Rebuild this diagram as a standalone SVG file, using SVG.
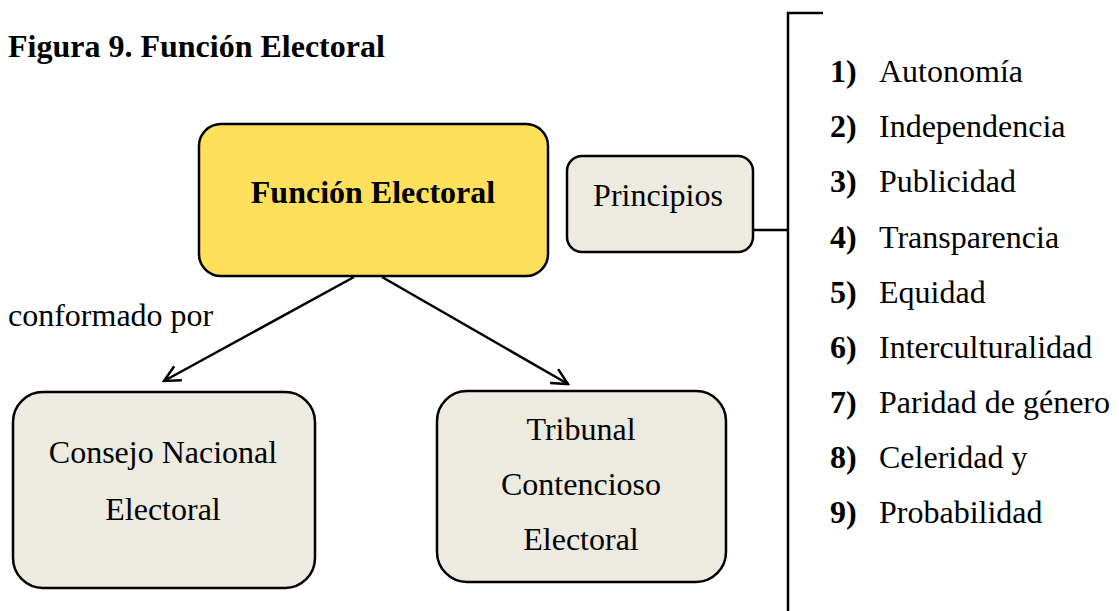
<svg xmlns="http://www.w3.org/2000/svg" width="1119" height="611" viewBox="0 0 1119 611">
<style>
text{font-family:"Liberation Serif","Times New Roman",serif;font-size:32px;fill:#000}
.b{font-weight:bold}
.box{stroke:#000;stroke-width:2.5}
.beige{fill:#EDEBE0}
.yel{fill:#FFE05C}
.ln{stroke:#000;stroke-width:2.5;fill:none}
</style>
<defs>
<marker id="arr" viewBox="0 0 20 20" refX="18" refY="10" markerWidth="20" markerHeight="20" markerUnits="userSpaceOnUse" orient="auto">
<polyline points="2,2 18,10 2,18" fill="none" stroke="#000" stroke-width="2.5"/>
</marker>
</defs>
<rect width="1119" height="611" fill="#fff"/>
<text id="title" class="b" x="8" y="57">Figura 9. Función Electoral</text>
<g id="connectors">
<line class="ln" x1="354" y1="277" x2="164" y2="381" marker-end="url(#arr)"/>
<line class="ln" x1="382" y1="277" x2="568" y2="384" marker-end="url(#arr)"/>
<line class="ln" x1="753" y1="230" x2="788" y2="230"/>
<polyline class="ln" points="823,13 788,13 788,611"/>
</g>
<text id="label-conformado" x="8" y="326">conformado por</text>
<g id="funcion">
<rect class="box yel" x="199" y="124" width="349" height="152" rx="22"/>
<text class="b" x="373" y="203" text-anchor="middle">Función Electoral</text>
</g>
<g id="principios">
<rect class="box beige" x="567" y="156" width="186" height="96" rx="15"/>
<text x="658" y="206" text-anchor="middle">Principios</text>
</g>
<g id="consejo">
<rect class="box beige" x="13" y="392" width="302" height="196" rx="30"/>
<text x="163" y="463" text-anchor="middle">Consejo Nacional</text>
<text x="163" y="520" text-anchor="middle">Electoral</text>
</g>
<g id="tribunal">
<rect class="box beige" x="437" y="391" width="289" height="191" rx="30"/>
<text x="581" y="440" text-anchor="middle">Tribunal</text>
<text x="581" y="495" text-anchor="middle">Contencioso</text>
<text x="581" y="550" text-anchor="middle">Electoral</text>
</g>
<g id="lista">
<text x="830" y="82"><tspan class="b">1)</tspan><tspan x="879">Autonomía</tspan></text>
<text x="830" y="137"><tspan class="b">2)</tspan><tspan x="879">Independencia</tspan></text>
<text x="830" y="192"><tspan class="b">3)</tspan><tspan x="879">Publicidad</tspan></text>
<text x="830" y="248"><tspan class="b">4)</tspan><tspan x="879">Transparencia</tspan></text>
<text x="830" y="303"><tspan class="b">5)</tspan><tspan x="879">Equidad</tspan></text>
<text x="830" y="358"><tspan class="b">6)</tspan><tspan x="879">Interculturalidad</tspan></text>
<text x="830" y="413"><tspan class="b">7)</tspan><tspan x="879">Paridad de género</tspan></text>
<text x="830" y="468"><tspan class="b">8)</tspan><tspan x="879">Celeridad y</tspan></text>
<text x="830" y="523"><tspan class="b">9)</tspan><tspan x="879">Probabilidad</tspan></text>
</g>
</svg>
